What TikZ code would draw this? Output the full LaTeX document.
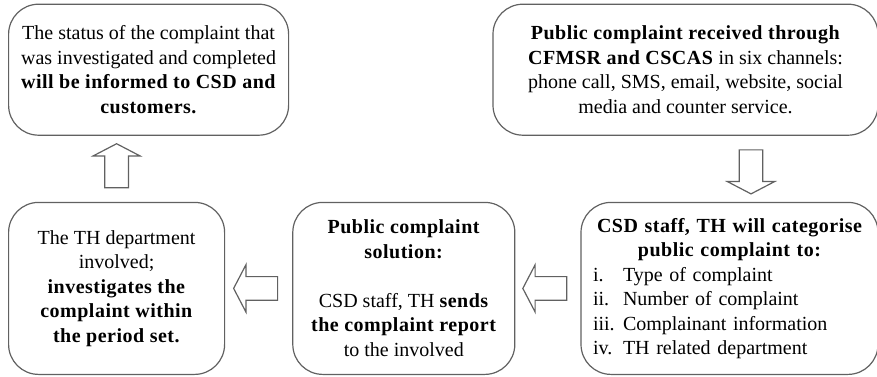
\documentclass[tikz,border=0pt]{standalone}
\usepackage{fontspec}
\setmainfont{Liberation Serif}[BoldFeatures={LetterSpace=2.5}]
\usetikzlibrary{positioning, calc, shapes.arrows}

\definecolor{framegray}{gray}{0.38}

\begin{document}
\begin{tikzpicture}[font=\fontsize{10}{12.25}\selectfont,
  box/.style={draw=framegray, line width=0.6pt, rounded corners=15pt, align=center, inner sep=3pt, text=black},
  toprow/.style={box, minimum height=65.5pt},
  lowrow/.style={box, minimum height=86pt},
  hollow/.style={single arrow, draw=framegray, line width=0.6pt, minimum height=22pt,
    inner xsep=0pt, inner ysep=5.6pt, single arrow head extend=5.9pt, single arrow tip angle=125}]
\useasboundingbox (0,0) rectangle (438.5pt,188pt);
% bottom row, right to left in the flow
\node[lowrow, minimum width=108pt, anchor=south west] (investigate) at (4pt,0.5pt)
  {The TH department\\involved;\\\textbf{investigates the}\\\textbf{complaint within}\\\textbf{the period set.}};
\node[lowrow, minimum width=111pt, right=33.5pt of investigate] (solution)
  {\textbf{Public complaint}\\\textbf{solution:}\\[12.25pt]CSD staff, TH \textbf{sends}\\\textbf{the complaint report}\\to the involved};
\node[lowrow, minimum width=148.5pt, text width=136.5pt, inner xsep=6pt, align=left, right=32.5pt of solution] (categorise)
  {\makebox[\linewidth]{\bfseries CSD staff, TH will categorise}\\
   \makebox[\linewidth]{\bfseries public complaint to:}\\
   \makebox[15pt][l]{i.}Type of complaint\\
   \makebox[15pt][l]{ii.}Number of complaint\\
   \makebox[15pt][l]{iii.}Complainant information\\
   \makebox[15pt][l]{iv.}TH related department};
% top row
\node[toprow, minimum width=140pt, above right=33pt and 0pt of investigate.north west] (status)
  {The status of the complaint that\\was investigated and completed\\\textbf{will be informed to CSD and}\\\textbf{customers.}};
\node[toprow, minimum width=192.5pt, above left=33pt and 0pt of categorise.north east] (received)
  {\textbf{Public complaint received through}\\\textbf{CFMSR and CSCAS} in six channels:\\phone call, SMS, email, website, social\\media and counter service.};
% hollow arrows between the boxes
\coordinate (drop) at ($(categorise.north)+(10.75pt,0)$);
\path (drop |- received.south) -- (drop) node[hollow, midway, rotate=-90] (a1) {};
\path (categorise.west) -- (solution.east) node[hollow, midway, rotate=180] (a2) {};
\path (solution.west) -- (investigate.east) node[hollow, midway, rotate=180] (a3) {};
\path (investigate.north) -- (investigate.north |- status.south) node[hollow, midway, rotate=90] (a4) {};
\end{tikzpicture}
\end{document}
